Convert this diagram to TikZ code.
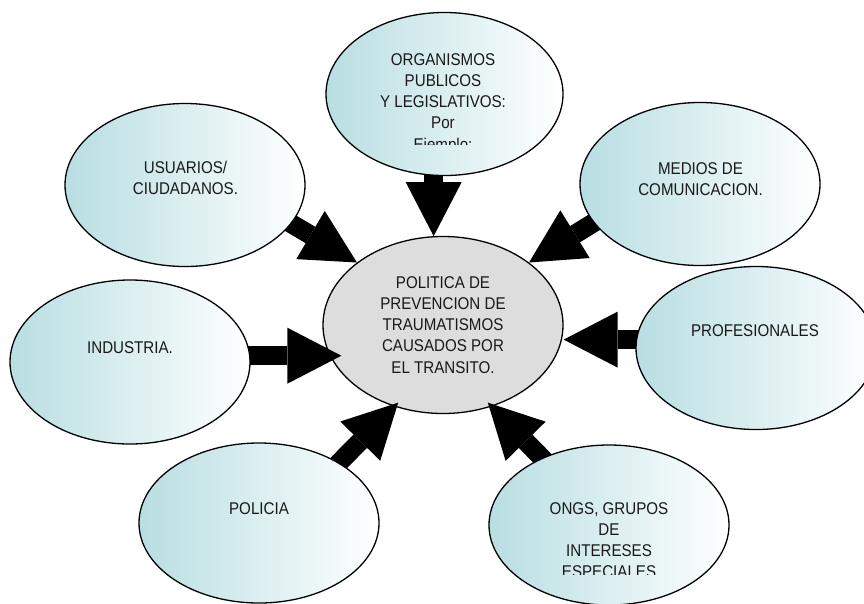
\documentclass[tikz,border=0pt]{standalone}
\usepackage{fontspec}
\setmainfont{Liberation Sans}[FakeStretch=0.89]
\usetikzlibrary{arrows.meta,calc,shapes.geometric}
\pgfdeclarelayer{centrelayer}
\pgfdeclarelayer{arrowlayer}
\pgfsetlayers{centrelayer,arrowlayer,main}
\definecolor{tealone}{RGB}{184,222,226}
\definecolor{grayc}{RGB}{221,221,221}
\definecolor{txtc}{RGB}{25,25,25}
\begin{document}
\begin{tikzpicture}[x=1pt,y=-1pt,
  bubble/.style={ellipse,draw=black,line width=1.3pt,minimum width=240pt,
    minimum height=163pt,inner sep=0pt,left color=tealone,right color=white},
  hub/.style={ellipse,draw=black,line width=1.3pt,minimum width=240pt,
    minimum height=177pt,inner sep=0pt,fill=grayc},
  txt/.style={anchor=north,inner sep=0pt,align=center,text=txtc,
    font=\fontsize{17pt}{21.3pt}\selectfont},
  blk/.style={line width=19pt,draw=black,
    -{Triangle[width=56pt,length=54pt,line width=0pt]}}]
\useasboundingbox (0,0) rectangle (864,603);

\begin{pgfonlayer}{centrelayer}
\node[hub] (c) at (443,325) {};
\end{pgfonlayer}

\node[bubble,minimum width=237pt] (o) at (444.5,94) {};
\node[bubble] (u) at (185,185) {};
\node[bubble] (m) at (700,184) {};
\node[bubble,minimum height=164pt] (i) at (130,362) {};
\node[bubble] (pr) at (756,348) {};
\node[bubble,minimum height=160pt] (po) at (259,523) {};
\node[bubble,minimum height=160pt] (on) at (609,525) {};

\coordinate (itip) at ($(c.west |- i.3)+(19,0)$);
\coordinate (potip) at ($(c.-120)!5pt!(c.center)$);
\coordinate (ontip) at ($(c.-60)!5pt!(c.center)$);

\begin{pgfonlayer}{arrowlayer}
\draw[blk] ($(u.-20)!-10pt!(c.144)$) -- (c.144);
\draw[blk] ($(c.96 |- o.south)+(0,-10)$) -- (c.96);
\draw[blk] ($(m.200)!-10pt!(c.36)$) -- (c.36);
\draw[blk] ($(i.3)+(-10,0)$) -- (itip);
\draw[blk] ($(pr.176)+(10,0)$) -- (c.east |- pr.176);
\draw[blk] ($(po.37)!-10pt!(potip)$) -- (potip);
\draw[blk] ($(on.135)!-10pt!(ontip)$) -- (ontip);
\end{pgfonlayer}

\begin{scope}
\clip (326,0) rectangle (563,144);
\node[txt] (ot) at (443,53) {ORGANISMOS\\PUBLICOS\\Y LEGISLATIVOS:\\Por\\Ejemplo:};
\end{scope}
\node[txt] (ut) at (185.5,161) {USUARIOS/\\CIUDADANOS.};
\node[txt] (mt) at (700.5,162) {MEDIOS DE\\COMUNICACION.};
\node[txt] (it) at (130,341) {INDUSTRIA.};
\node[txt] (prt) at (755,324) {PROFESIONALES};
\node[txt] (pot) at (259,502) {POLICIA};
\begin{scope}
\clip (489,440) rectangle (729,574);
\node[txt] (ont) at (609,502) {ONGS, GRUPOS\\DE\\INTERESES\\ESPECIALES};
\end{scope}
\node[txt] (ct) at (443,276) {POLITICA DE\\PREVENCION DE\\TRAUMATISMOS\\CAUSADOS POR\\EL TRANSITO.};
\end{tikzpicture}
\end{document}
